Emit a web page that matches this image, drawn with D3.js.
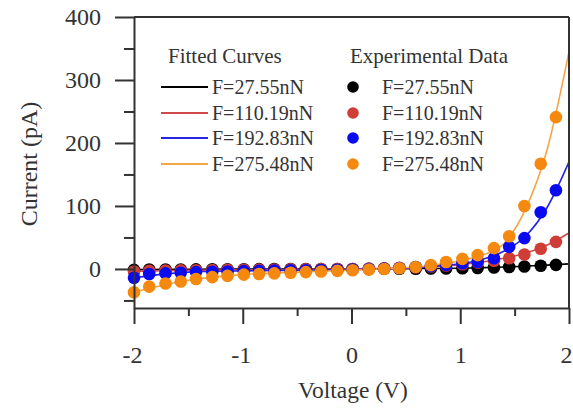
<!DOCTYPE html>
<html>
<head>
<meta charset="utf-8">
<script src="https://cdn.jsdelivr.net/npm/d3@7"></script>
<style>
  html, body { margin: 0; padding: 0; background: #fff; }
  svg { display: block; font-family: "Liberation Serif", "Times New Roman", serif; }
</style>
</head>
<body>
<svg id="chart" width="573" height="412"></svg>
<script>
// ---------- data ----------
const seriesNames = ["F=27.55nN", "F=110.19nN", "F=192.83nN", "F=275.48nN"];
const dotColors  = ["#000000", "#cf3d36", "#0a0af0", "#f5890f"];
const lineColors = ["#000000", "#d0484a", "#2424e6", "#f4a545"];

// experimental voltages (V)
const voltages = [-2.00,-1.86,-1.71,-1.57,-1.43,-1.28,-1.14,-0.99,-0.85,-0.71,-0.56,-0.42,-0.28,-0.13,
                  0.01,0.16,0.30,0.44,0.59,0.73,0.87,1.02,1.16,1.31,1.45,1.59,1.74,1.88];
// experimental currents (pA)
const expF1 = [-1.5,-1,-1,-0.8,-0.7,-0.6,-0.5,-0.4,-0.3,-0.2,-0.2,-0.1,0,0,0,0.1,0.2,0.3,0.4,0.6,0.8,1.2,1.6,2.2,3,4,5,6.5];
const expF2 = [-4,-3,-2.5,-2.2,-2,-1.8,-1.5,-1.3,-1.1,-0.9,-0.7,-0.5,-0.3,-0.1,0,0.5,1,1.8,2.8,4,5.5,7.5,10,13,17,23,32,43];
const expF3 = [-14,-8,-7,-6,-5,-4.5,-4,-3.5,-3,-2.5,-2.2,-2,-1.6,-1.2,-0.8,-0.2,0.5,1.5,3,4.5,6.5,9,11,17,35,49,90,125];
const expF4 = [-37,-28,-23,-20,-16,-13,-11,-9,-8,-7,-6,-5,-4,-3,-2,-1,0,1,3,6,11,16,22,33,52,100,167,241];

// fitted curves
const fitVoltages = [-2,-1.5,-1,-0.5,0,0.25,0.5,0.75,1,1.2,1.4,1.6,1.8,2.0];
const fitF1 = [-1,-0.5,-0.3,-0.2,0,0.2,0.5,0.8,1.2,2,3,4.5,6,8];
const fitF2 = [-4,-2,-1.5,-1,0,0.8,2,4,7,11,17,25,38,57];
const fitF3 = [-14,-5,-3,-2,-1,0,1,4,8,15,28,52,98,170];
const fitF4 = [-37,-18,-9,-5,-2,0,2,6,13,22,40,95,190,345];

const xTicks = [-2,-1,0,1,2];
const xMinorTicks = [-1.5,-0.5,0.5,1.5];
const yTicks = [0,100,200,300,400];
const yMinorTicks = [-50,50,150,250,350];

// ---------- layout ----------
const svg = d3.select("#chart");
const L = 134, R = 569, T = 17, B = 308;
const x = d3.scaleLinear().domain([-2, 2]).range([L, R]);
const y = d3.scaleLinear().domain([-62, 400]).range([B, T]);
const ink = "#333333";

const expSeries = [expF1, expF2, expF3, expF4];
const fitSeries = [fitF1, fitF2, fitF3, fitF4];

// fitted lines
const line = d3.line().x(d => x(d[0])).y(d => y(d[1])).curve(d3.curveMonotoneX);
fitSeries.forEach((vals, i) => {
  svg.append("path")
    .datum(fitVoltages.map((v, j) => [v, vals[j]]))
    .attr("d", line)
    .attr("fill", "none")
    .attr("stroke", lineColors[i])
    .attr("stroke-width", 1.6);
});

// experimental points
expSeries.forEach((vals, i) => {
  svg.append("g").selectAll("circle")
    .data(voltages.map((v, j) => [v, vals[j]]))
    .join("circle")
    .attr("cx", d => x(d[0]))
    .attr("cy", d => y(d[1]))
    .attr("r", 6.3)
    .attr("fill", dotColors[i]);
});

// axes
function styleAxis(g) {
  g.select(".domain").attr("stroke", ink).attr("stroke-width", 2);
  g.selectAll(".tick line").attr("stroke", ink).attr("stroke-width", 2);
  g.selectAll(".tick text").attr("fill", ink).attr("font-size", 24)
    .attr("font-family", "Liberation Serif, serif");
}
const plainFmt = d => String(d);   // hyphen-minus like the reference

const gx = svg.append("g").attr("transform", `translate(0,${B})`)
  .call(d3.axisBottom(x).tickValues(xTicks).tickSize(16).tickFormat(plainFmt).tickSizeOuter(0));
styleAxis(gx);
gx.selectAll(".tick text").attr("y", 55).attr("dy", 0)
  .attr("dx", d => d === 2 ? -3 : (d < 0 ? -2 : 0));

const gxm = svg.append("g").attr("transform", `translate(0,${B})`)
  .call(d3.axisBottom(x).tickValues(xMinorTicks).tickSize(8).tickFormat("").tickSizeOuter(0));
styleAxis(gxm);
gxm.select(".domain").remove();

const gy = svg.append("g").attr("transform", `translate(${L},0)`)
  .call(d3.axisLeft(y).tickValues(yTicks).tickSize(19).tickPadding(14).tickFormat(plainFmt).tickSizeOuter(0));
styleAxis(gy);

const gym = svg.append("g").attr("transform", `translate(${L},0)`)
  .call(d3.axisLeft(y).tickValues(yMinorTicks).tickSize(10).tickFormat("").tickSizeOuter(0));
styleAxis(gym);
gym.select(".domain").remove();

// frame top/right
svg.append("line").attr("x1", L).attr("x2", R).attr("y1", T).attr("y2", T)
  .attr("stroke", ink).attr("stroke-width", 2);
svg.append("line").attr("x1", R).attr("x2", R).attr("y1", T).attr("y2", B)
  .attr("stroke", ink).attr("stroke-width", 2);

// axis titles
svg.append("text").attr("x", 353).attr("y", 398).attr("text-anchor", "middle")
  .attr("font-size", 23.5).attr("fill", ink).text("Voltage (V)");
svg.append("text").attr("transform", "translate(37,164) rotate(-90)").attr("text-anchor", "middle")
  .attr("font-size", 24).attr("fill", ink).text("Current (pA)");

// legend
const rowY = [87, 113, 138, 164];
svg.append("text").attr("x", 168).attr("y", 63).attr("font-size", 21).attr("fill", ink).text("Fitted Curves");
svg.append("text").attr("x", 350).attr("y", 63).attr("font-size", 21).attr("fill", ink).text("Experimental Data");
seriesNames.forEach((name, i) => {
  svg.append("line").attr("x1", 161).attr("x2", 208).attr("y1", rowY[i]).attr("y2", rowY[i])
    .attr("stroke", lineColors[i]).attr("stroke-width", 2);
  svg.append("text").attr("x", 212).attr("y", rowY[i] + 7).attr("font-size", 20).attr("fill", ink).text(name);
  svg.append("circle").attr("cx", 353).attr("cy", rowY[i]).attr("r", 5.8).attr("fill", dotColors[i]);
  svg.append("text").attr("x", 382).attr("y", rowY[i] + 7).attr("font-size", 20).attr("fill", ink).text(name);
});
</script>
</body>
</html>
